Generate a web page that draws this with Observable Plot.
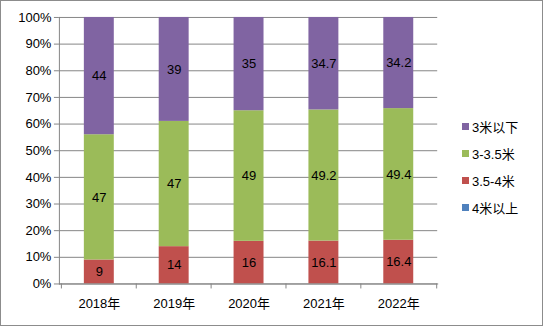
<!DOCTYPE html>
<html><head><meta charset="utf-8">
<script src="https://cdn.jsdelivr.net/npm/d3@7"></script>
<script src="https://cdn.jsdelivr.net/npm/@observablehq/plot@0.6"></script>
<style>
html,body{margin:0;padding:0;background:#fff;}
#wrap{position:relative;width:543px;height:326px;box-sizing:border-box;border:1px solid #8c8c8c;overflow:hidden;font-family:"Liberation Sans","Noto Sans CJK SC",sans-serif;}
#chart{position:absolute;left:-1px;top:-1px;}
#legend{position:absolute;left:461px;top:112px;font-size:13px;color:#000;}
#legend div{height:27px;display:flex;align-items:center;}
#legend span.sw{display:inline-block;width:7px;height:7px;margin-right:3px;}
</style></head>
<body><div id="wrap"><div id="chart"></div><div id="legend"></div></div>
<script>
const years = ["2018年","2019年","2020年","2021年","2022年"];
const seriesNames = ["4米以上","3.5-4米","3-3.5米","3米以下"];
const colors = ["#4F81BD","#C0504D","#9BBB59","#8064A2"];
const v4up = [0,0,0,0,0];
const v35to4 = [9,14,16,16.1,16.4];
const v3to35 = [47,47,49,49.2,49.4];
const v3down = [44,39,35,34.7,34.2];
const yTicks = [0,10,20,30,40,50,60,70,80,90,100];

const seriesValues = [v4up, v35to4, v3to35, v3down];
const data = [];
seriesNames.forEach((s, i) => years.forEach((y, j) => data.push({year: y, series: s, value: seriesValues[i][j]})));
const gray = "#868686";

const plot = Plot.plot({
  width: 543, height: 326,
  marginLeft: 59, marginRight: 105, marginTop: 17, marginBottom: 42,
  style: {fontFamily: '"Liberation Sans","Noto Sans CJK SC",sans-serif', fontSize: "13px", color: "#000", background: "transparent"},
  x: {domain: years, paddingInner: 0.6, paddingOuter: 0.3, label: null},
  y: {domain: [0, 100], label: null},
  color: {domain: seriesNames, range: colors},
  marks: [
    Plot.ruleY(yTicks, {stroke: gray, strokeWidth: 1}),
    Plot.barY(data, Plot.stackY({x: "year", y: "value", fill: "series", order: seriesNames})),
    Plot.text(data, Plot.stackY({x: "year", y: "value", z: "series", order: seriesNames, text: d => d.value > 0 ? String(d.value) : null, fill: "#000", fontSize: 13})),
    Plot.axisY({ticks: yTicks, tickFormat: d => d + "%", tickSize: 5, tickPadding: 3, stroke: gray, fill: "#000", fontSize: 13}),
    Plot.frame({anchor: "left", stroke: gray}),
    Plot.frame({anchor: "bottom", stroke: gray}),
    Plot.axisX({tickSize: 0, tickPadding: 15, fill: "#000", fontSize: 13}),
    Plot.axisX({ticks: years, tickSize: 5, text: null, dx: -38, stroke: gray}),
    Plot.axisX({ticks: years.slice(-1), tickSize: 5, text: null, dx: 38, stroke: gray})
  ]
});
document.getElementById("chart").appendChild(plot);

const legend = document.getElementById("legend");
[3,2,1,0].forEach(i => {
  const row = document.createElement("div");
  row.innerHTML = `<span class="sw" style="background:${colors[i]}"></span>${seriesNames[i]}`;
  legend.appendChild(row);
});
</script></body></html>
